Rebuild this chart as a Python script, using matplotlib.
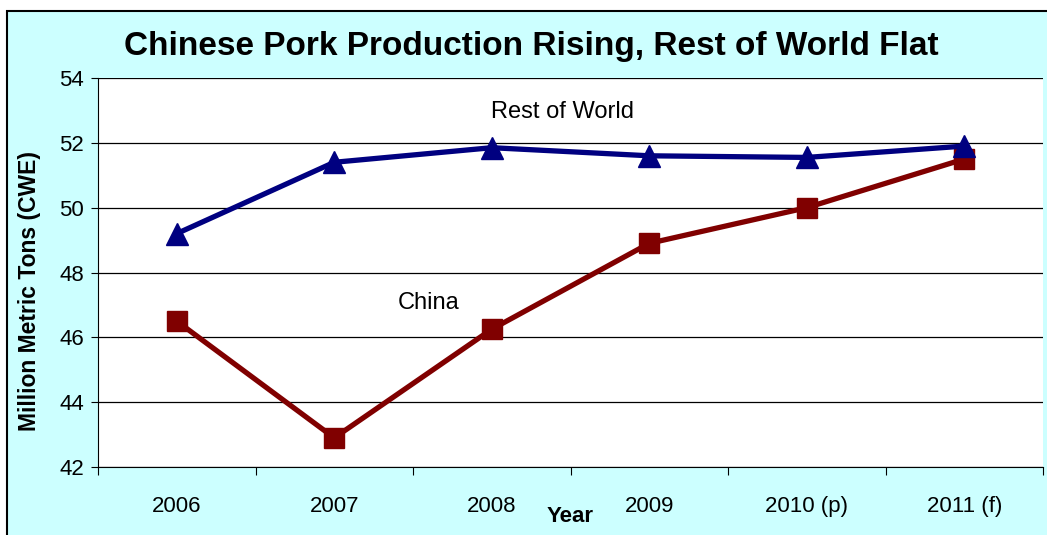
import matplotlib
matplotlib.use("Agg")
import matplotlib.pyplot as plt
from matplotlib.patches import Rectangle

# data
years = ['2006', '2007', '2008', '2009', '2010 (p)', '2011 (f)']
rest_of_world = [49.2, 51.4, 51.85, 51.6, 51.55, 51.9]
china = [46.5, 42.9, 46.25, 48.9, 50.0, 51.5]

plt.rcParams['font.family'] = ['Liberation Sans', 'DejaVu Sans']

fig = plt.figure(figsize=(10.47, 5.35), dpi=100)
fig.patch.set_facecolor('white')

# light cyan chart area with black frame
bg = Rectangle((7 / 1047, -0.01), 1.02, 1 - 10.5 / 535 + 0.01, transform=fig.transFigure,
               facecolor='#ccffff', edgecolor='black', linewidth=1.5, zorder=-10)
fig.patches.append(bg)

ax = fig.add_axes([98 / 1047, 1 - 467 / 535, (1043 - 98) / 1047, (467 - 78) / 535])
ax.set_facecolor('white')

x = list(range(len(years)))
ax.plot(x, rest_of_world, color='#000080', linewidth=3.8, marker='^', markersize=16.5,
        clip_on=False, zorder=3)
ax.plot(x, china, color='#800000', linewidth=3.8, marker='s', markersize=15,
        clip_on=False, zorder=2)

ax.set_xlim(-0.5, len(years) - 0.5)
ax.set_ylim(42, 54)
ax.set_yticks(range(42, 55, 2))
ax.yaxis.grid(True, color='black', linewidth=0.9)
ax.set_axisbelow(True)

# category ticks sit between categories, labels centred
ax.set_xticks([i - 0.5 for i in range(len(years) + 1)])
ax.set_xticklabels([])
ax.set_xticks(x, minor=True)
ax.set_xticklabels(years, minor=True, fontsize=16)
ax.tick_params(axis='x', which='minor', length=0, pad=21)
ax.tick_params(axis='x', which='major', length=6, direction='out')
ax.tick_params(axis='y', length=5, direction='out', labelsize=16, pad=5)

for side in ['top', 'right']:
    ax.spines[side].set_visible(False)
ax.spines['left'].set_color('black')
ax.spines['bottom'].set_color('black')

ax.text(2.45, 52.95, 'Rest of World', fontsize=17, ha='center', va='center')
ax.text(1.6, 47.05, 'China', fontsize=17, ha='center', va='center')

fig.text(531 / 1047, 1 - 47 / 535, 'Chinese Pork Production Rising, Rest of World Flat',
         fontsize=24, fontweight='bold', ha='center', va='center')
fig.text(30 / 1047, 1 - 291 / 535, 'Million Metric Tons (CWE)', fontsize=16.5,
         fontweight='bold', rotation=90, ha='center', va='center')
fig.text(570 / 1047, 1 - 517 / 535, 'Year', fontsize=16, fontweight='bold',
         ha='center', va='center')

fig.savefig('out.png', dpi=100)
